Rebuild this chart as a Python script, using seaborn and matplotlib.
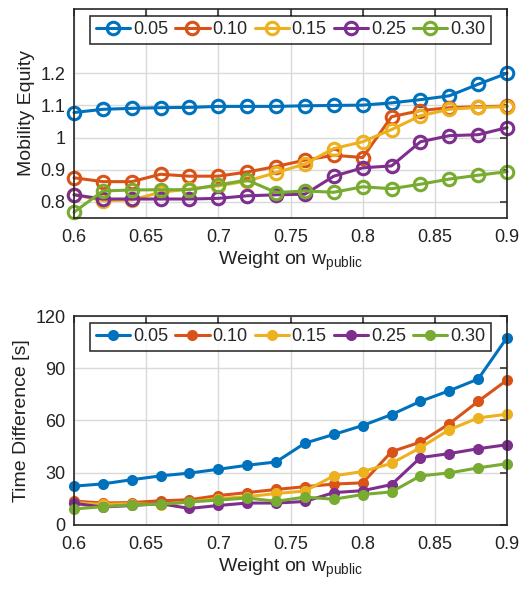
import numpy as np
import pandas as pd
import seaborn as sns
import matplotlib
matplotlib.use("Agg")
import matplotlib.pyplot as plt

WEIGHTS = [0.60, 0.62, 0.64, 0.66, 0.68, 0.70, 0.72, 0.74,
           0.76, 0.78, 0.80, 0.82, 0.84, 0.86, 0.88, 0.90]
SERIES = ["0.05", "0.10", "0.15", "0.25", "0.30"]

# Mobility equity (top panel)
EQ_005 = [1.078, 1.088, 1.091, 1.093, 1.094, 1.097, 1.097, 1.097,
          1.099, 1.100, 1.101, 1.108, 1.118, 1.130, 1.166, 1.200]
EQ_010 = [0.875, 0.863, 0.863, 0.886, 0.880, 0.880, 0.893, 0.910,
          0.930, 0.945, 0.938, 1.065, 1.084, 1.093, 1.096, 1.098]
EQ_015 = [0.823, 0.804, 0.806, 0.830, 0.840, 0.850, 0.865, 0.891,
          0.918, 0.966, 0.987, 1.025, 1.068, 1.088, 1.094, 1.096]
EQ_025 = [0.822, 0.809, 0.809, 0.809, 0.809, 0.811, 0.819, 0.822,
          0.824, 0.880, 0.906, 0.912, 0.987, 1.006, 1.009, 1.031]
EQ_030 = [0.768, 0.834, 0.837, 0.838, 0.838, 0.853, 0.868, 0.829,
          0.834, 0.830, 0.847, 0.841, 0.855, 0.871, 0.883, 0.894]

# Time difference [s] (bottom panel)
TD_005 = [22.3, 23.6, 26.0, 28.2, 29.8, 32.0, 34.3, 36.2,
          47.0, 52.0, 57.1, 63.4, 71.0, 77.1, 83.8, 107.6]
TD_010 = [13.7, 12.6, 12.9, 13.9, 14.5, 16.9, 18.6, 20.4,
          22.0, 23.5, 24.2, 42.1, 47.6, 58.1, 71.0, 83.2]
TD_015 = [12.8, 11.8, 12.3, 11.6, 13.3, 15.2, 16.2, 18.1,
          19.5, 28.2, 30.7, 35.4, 44.4, 54.7, 61.5, 63.6]
TD_025 = [12.4, 10.3, 11.2, 12.2, 9.5, 11.2, 12.6, 12.6,
          13.5, 18.6, 19.7, 23.2, 38.7, 41.0, 43.8, 46.1]
TD_030 = [9.2, 10.5, 11.6, 11.9, 13.2, 14.3, 15.5, 13.6,
          16.0, 14.8, 17.5, 19.0, 28.2, 29.9, 32.8, 35.2]

COLORS = ["#0072BD", "#D95319", "#EDB120", "#7E2F8E", "#77AC30"]


def long_df(cols, name):
    frames = []
    for label, vals in zip(SERIES, cols):
        frames.append(pd.DataFrame({"w": WEIGHTS, name: vals, "alpha": label}))
    return pd.concat(frames, ignore_index=True)


eq_df = long_df([EQ_005, EQ_010, EQ_015, EQ_025, EQ_030], "equity")
td_df = long_df([TD_005, TD_010, TD_015, TD_025, TD_030], "tdiff")

sns.set_style("white")
plt.rcParams["font.family"] = ["Liberation Sans", "DejaVu Sans"]
plt.rcParams["mathtext.fontset"] = "custom"
plt.rcParams["mathtext.rm"] = "Liberation Sans"
plt.rcParams["mathtext.it"] = "Liberation Sans"
plt.rcParams["font.size"] = 13

AX_COLOR = "#262626"

fig = plt.figure(figsize=(5.22, 5.92), dpi=100)
ax1 = fig.add_axes([0.1418, 0.6318, 0.8295, 0.3530])
ax2 = fig.add_axes([0.1418, 0.1132, 0.8295, 0.3530])


def style_axes(ax):
    ax.grid(True, color="#d9d9d9", linewidth=1.0)
    ax.set_axisbelow(True)
    for s in ax.spines.values():
        s.set_color(AX_COLOR)
        s.set_linewidth(1.2)
    ax.tick_params(direction="in", length=5, width=1.1, top=True, right=True,
                   colors=AX_COLOR, labelcolor="#222222", labelsize=13, pad=6)
    ax.tick_params(axis="x", pad=8)
    ax.set_xlim(0.6, 0.9)
    ax.set_xticks([0.6, 0.65, 0.7, 0.75, 0.8, 0.85, 0.9])
    ax.set_xticklabels(["0.6", "0.65", "0.7", "0.75", "0.8", "0.85", "0.9"])
    ax.set_xlabel(r"Weight on w$_{\mathrm{public}}$", fontsize=14,
                  color="#222222", labelpad=3)


def add_legend(ax):
    leg = ax.legend(ax.lines[:5], SERIES, loc="upper center", ncol=5,
                    bbox_to_anchor=(0.5, 0.985), fontsize=13, frameon=True,
                    fancybox=False, edgecolor="black", handlelength=1.9,
                    handletextpad=0.15, columnspacing=0.4, borderpad=0.3,
                    borderaxespad=0.2)
    leg.get_frame().set_linewidth(1.2)


# top panel: open circles
sns.lineplot(data=eq_df, x="w", y="equity", hue="alpha", hue_order=SERIES,
             palette=COLORS, ax=ax1, legend=False, marker="o",
             markerfacecolor="none", markeredgewidth=2.2, markersize=9,
             linewidth=2.2, clip_on=False)
for line, c in zip(ax1.lines, COLORS):
    line.set_markeredgecolor(c)
style_axes(ax1)
ax1.set_ylim(0.75, 1.4)
ax1.set_yticks([0.8, 0.9, 1.0, 1.1, 1.2])
ax1.set_yticklabels(["0.8", "0.9", "1", "1.1", "1.2"])
ax1.set_ylabel("Mobility Equity", fontsize=14, color="#222222")
add_legend(ax1)

# bottom panel: filled dots
sns.lineplot(data=td_df, x="w", y="tdiff", hue="alpha", hue_order=SERIES,
             palette=COLORS, ax=ax2, legend=False, marker="o",
             markeredgewidth=0, markersize=8, linewidth=2.2, clip_on=False)
style_axes(ax2)
ax2.set_ylim(0, 120)
ax2.set_yticks([0, 30, 60, 90, 120])
ax2.set_ylabel("Time Difference [s]", fontsize=14, color="#222222")
add_legend(ax2)

fig.savefig("out.png", dpi=100)
